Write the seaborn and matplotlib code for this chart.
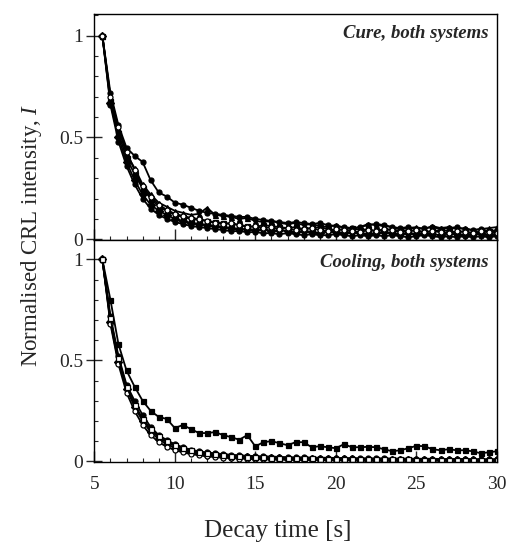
import matplotlib
matplotlib.use("Agg")
import matplotlib.pyplot as plt
from matplotlib.ticker import MultipleLocator, FixedLocator
import seaborn as sns
import pandas as pd

sns.set_style("ticks")
plt.rcParams['font.family'] = ['Liberation Serif', 'DejaVu Serif']
plt.rcParams['mathtext.fontset'] = 'custom'
plt.rcParams['mathtext.it'] = 'Liberation Serif:italic'
plt.rcParams['mathtext.rm'] = 'Liberation Serif'

# Decay time (s)
time = [5.5, 6.0, 6.5, 7.0, 7.5, 8.0, 8.5, 9.0, 9.5, 10.0,
        10.5, 11.0, 11.5, 12.0, 12.5, 13.0, 13.5, 14.0, 14.5, 15.0,
        15.5, 16.0, 16.5, 17.0, 17.5, 18.0, 18.5, 19.0, 19.5, 20.0,
        20.5, 21.0, 21.5, 22.0, 22.5, 23.0, 23.5, 24.0, 24.5, 25.0,
        25.5, 26.0, 26.5, 27.0, 27.5, 28.0, 28.5, 29.0, 29.5, 30.0]

# Cure, both systems
cure_a = [1.00, 0.72, 0.56, 0.45, 0.41, 0.38, 0.29, 0.23, 0.21, 0.18,
          0.17, 0.155, 0.14, 0.13, 0.125, 0.12, 0.115, 0.11, 0.11, 0.10,
          0.095, 0.09, 0.085, 0.08, 0.085, 0.08, 0.075, 0.08, 0.07, 0.065,
          0.06, 0.055, 0.06, 0.07, 0.075, 0.07, 0.06, 0.055, 0.06, 0.05,
          0.055, 0.06, 0.05, 0.055, 0.06, 0.05, 0.045, 0.05, 0.04, 0.045]
cure_b = [1.00, 0.70, 0.54, 0.42, 0.35, 0.27, 0.22, 0.18, 0.16, 0.14,
          0.13, 0.12, 0.125, 0.155, 0.12, 0.115, 0.11, 0.10, 0.105, 0.09,
          0.085, 0.09, 0.08, 0.075, 0.08, 0.07, 0.075, 0.065, 0.06, 0.07,
          0.055, 0.05, 0.06, 0.075, 0.07, 0.065, 0.06, 0.05, 0.055, 0.06,
          0.05, 0.065, 0.055, 0.06, 0.05, 0.055, 0.045, 0.05, 0.055, 0.06]
cure_c = [1.00, 0.68, 0.52, 0.40, 0.32, 0.25, 0.20, 0.16, 0.14, 0.12,
          0.11, 0.10, 0.095, 0.09, 0.085, 0.08, 0.075, 0.07, 0.065, 0.06,
          0.07, 0.065, 0.06, 0.055, 0.06, 0.05, 0.055, 0.06, 0.05, 0.045,
          0.05, 0.055, 0.045, 0.05, 0.04, 0.045, 0.05, 0.04, 0.045, 0.04,
          0.035, 0.04, 0.045, 0.04, 0.035, 0.04, 0.03, 0.035, 0.04, 0.035]
cure_d = [1.00, 0.67, 0.50, 0.38, 0.29, 0.22, 0.17, 0.14, 0.12, 0.10,
          0.09, 0.08, 0.075, 0.07, 0.065, 0.06, 0.055, 0.05, 0.05, 0.045,
          0.05, 0.04, 0.045, 0.04, 0.035, 0.04, 0.035, 0.03, 0.04, 0.035,
          0.03, 0.035, 0.03, 0.025, 0.03, 0.035, 0.03, 0.025, 0.03, 0.025,
          0.03, 0.025, 0.02, 0.03, 0.025, 0.02, 0.025, 0.03, 0.02, 0.025]
cure_e = [1.00, 0.66, 0.48, 0.36, 0.27, 0.20, 0.15, 0.12, 0.10, 0.085,
          0.075, 0.065, 0.06, 0.055, 0.05, 0.045, 0.04, 0.04, 0.035, 0.035,
          0.03, 0.03, 0.025, 0.03, 0.025, 0.02, 0.025, 0.02, 0.02, 0.025,
          0.02, 0.015, 0.02, 0.015, 0.02, 0.015, 0.02, 0.015, 0.01, 0.015,
          0.02, 0.015, 0.01, 0.015, 0.01, 0.015, 0.01, 0.015, 0.01, 0.015]
cure_f = [1.00, 0.70, 0.55, 0.43, 0.34, 0.26, 0.21, 0.17, 0.145, 0.125,
          0.115, 0.105, 0.10, 0.09, 0.08, 0.075, 0.08, 0.07, 0.06, 0.065,
          0.055, 0.06, 0.05, 0.055, 0.045, 0.05, 0.055, 0.045, 0.04, 0.05,
          0.045, 0.04, 0.035, 0.045, 0.04, 0.05, 0.045, 0.035, 0.04, 0.045,
          0.035, 0.04, 0.035, 0.03, 0.04, 0.035, 0.03, 0.04, 0.035, 0.03]

# Cooling, both systems
cool_a = [1.00, 0.80, 0.58, 0.45, 0.37, 0.30, 0.25, 0.22, 0.21, 0.165,
          0.18, 0.16, 0.14, 0.14, 0.145, 0.13, 0.12, 0.107, 0.13, 0.074,
          0.095, 0.10, 0.09, 0.08, 0.095, 0.095, 0.07, 0.075, 0.07, 0.065,
          0.085, 0.07, 0.07, 0.072, 0.07, 0.06, 0.05, 0.055, 0.065, 0.077,
          0.075, 0.06, 0.055, 0.06, 0.055, 0.055, 0.05, 0.04, 0.045, 0.05]
cool_b = [1.00, 0.72, 0.52, 0.38, 0.30, 0.23, 0.17, 0.13, 0.105, 0.085,
          0.07, 0.058, 0.05, 0.044, 0.04, 0.036, 0.033, 0.03, 0.028, 0.026,
          0.025, 0.024, 0.022, 0.021, 0.02, 0.02, 0.019, 0.018, 0.018, 0.017,
          0.017, 0.016, 0.016, 0.015, 0.015, 0.015, 0.014, 0.014, 0.014, 0.013,
          0.013, 0.013, 0.012, 0.012, 0.012, 0.012, 0.011, 0.011, 0.011, 0.011]
cool_c = [1.00, 0.70, 0.50, 0.37, 0.28, 0.21, 0.155, 0.12, 0.095, 0.077,
          0.063, 0.053, 0.045, 0.04, 0.035, 0.032, 0.029, 0.027, 0.025, 0.023,
          0.021, 0.02, 0.019, 0.018, 0.017, 0.016, 0.016, 0.015, 0.014, 0.014,
          0.013, 0.013, 0.012, 0.012, 0.011, 0.011, 0.011, 0.010, 0.010, 0.010,
          0.010, 0.009, 0.009, 0.009, 0.009, 0.009, 0.008, 0.008, 0.008, 0.008]
cool_d = [1.00, 0.69, 0.49, 0.36, 0.27, 0.20, 0.145, 0.11, 0.085, 0.068,
          0.055, 0.046, 0.039, 0.034, 0.03, 0.027, 0.024, 0.022, 0.02, 0.018,
          0.017, 0.016, 0.015, 0.014, 0.013, 0.012, 0.012, 0.011, 0.011, 0.01,
          0.01, 0.01, 0.009, 0.009, 0.009, 0.008, 0.008, 0.008, 0.008, 0.007,
          0.007, 0.007, 0.007, 0.007, 0.006, 0.006, 0.006, 0.006, 0.006, 0.006]
cool_e = [1.00, 0.68, 0.48, 0.34, 0.25, 0.18, 0.13, 0.095, 0.072, 0.056,
          0.044, 0.036, 0.03, 0.025, 0.021, 0.018, 0.016, 0.014, 0.012, 0.011,
          0.01, 0.009, 0.008, 0.008, 0.007, 0.007, 0.006, 0.006, 0.005, 0.005,
          0.005, 0.005, 0.004, 0.004, 0.004, 0.004, 0.004, 0.003, 0.003, 0.003,
          0.003, 0.003, 0.003, 0.003, 0.002, 0.002, 0.002, 0.002, 0.002, 0.002]
cool_f = [1.00, 0.71, 0.51, 0.37, 0.28, 0.21, 0.16, 0.125, 0.10, 0.08,
          0.066, 0.055, 0.047, 0.041, 0.036, 0.032, 0.029, 0.026, 0.024, 0.022,
          0.021, 0.019, 0.018, 0.017, 0.016, 0.015, 0.015, 0.014, 0.013, 0.013,
          0.012, 0.012, 0.011, 0.011, 0.011, 0.01, 0.01, 0.01, 0.01, 0.009,
          0.009, 0.009, 0.009, 0.008, 0.008, 0.008, 0.008, 0.008, 0.007, 0.007]

panel_titles = ["Cure, both systems", "Cooling, both systems"]
y_tick_values = [0, 0.5, 1]
y_tick_labels = ["0", "0.5", "1"]
x_tick_values = [5, 10, 15, 20, 25, 30]
x_tick_labels = ["5", "10", "15", "20", "25", "30"]

panels = [
    [cure_a, cure_b, cure_c, cure_d, cure_e, cure_f],
    [cool_a, cool_b, cool_c, cool_d, cool_e, cool_f],
]
marker_styles = [("o", "k"), ("^", "k"), ("s", "k"), ("D", "k"), ("o", "k"), ("o", "white")]
marker_styles_cool = [("s", "k"), ("o", "k"), ("^", "k"), ("D", "k"), ("o", "white"), ("s", "white")]

fig = plt.figure(figsize=(5.07, 5.42), dpi=100)
L, R = 0.186, 0.98
ax_top = fig.add_axes([L, 0.557, R - L, 0.974 - 0.557])
ax_bot = fig.add_axes([L, 0.148, R - L, 0.557 - 0.148])

for ax, series_list, styles, title, ylim, ty in [
    (ax_top, panels[0], marker_styles, panel_titles[0], (-0.004, 1.106), 0.915),
    (ax_bot, panels[1], marker_styles_cool, panel_titles[1], (-0.002, 1.095), 0.9),
]:
    for vals, (m, fc) in zip(series_list, styles):
        df = pd.DataFrame({"t": time, "I": vals})
        sns.lineplot(data=df, x="t", y="I", ax=ax, color="k", linewidth=1.3,
                     marker=m, markersize=3.6, markerfacecolor=fc,
                     markeredgecolor="k", markeredgewidth=0.9)
    ax.set_xlim(5, 30)
    ax.set_ylim(*ylim)
    ax.set_xlabel("")
    ax.set_ylabel("")
    ax.yaxis.set_major_locator(FixedLocator(y_tick_values))
    ax.set_yticklabels(y_tick_labels)
    ax.yaxis.set_minor_locator(MultipleLocator(0.1))
    ax.xaxis.set_major_locator(FixedLocator(x_tick_values))
    ax.set_xticklabels(x_tick_labels)
    ax.xaxis.set_minor_locator(MultipleLocator(1))
    ax.tick_params(axis="y", which="major", direction="inout", length=12, width=1.0,
                   labelsize=14, pad=2)
    ax.tick_params(axis="y", which="minor", direction="in", length=3, width=0.8)
    ax.tick_params(axis="x", which="major", direction="in", length=8, width=1.0,
                   labelsize=14, pad=10)
    ax.tick_params(axis="x", which="minor", direction="in", length=3, width=0.8)
    for s in ax.spines.values():
        s.set_linewidth(1.0)
        s.set_color("k")
    ax.text(0.978, ty, title, transform=ax.transAxes,
            ha="right", va="center", fontsize=13.5, style="italic", fontweight="bold")

ax_top.tick_params(axis="x", labelbottom=False)

fig.text(0.062, 0.565, r"Normalised CRL intensity, $\mathit{I}$", rotation=90,
         ha="center", va="center", fontsize=16.5)
fig.text(0.547, 0.02, "Decay time [s]", ha="center", va="center", fontsize=18)

fig.savefig("out.png", dpi=100)
